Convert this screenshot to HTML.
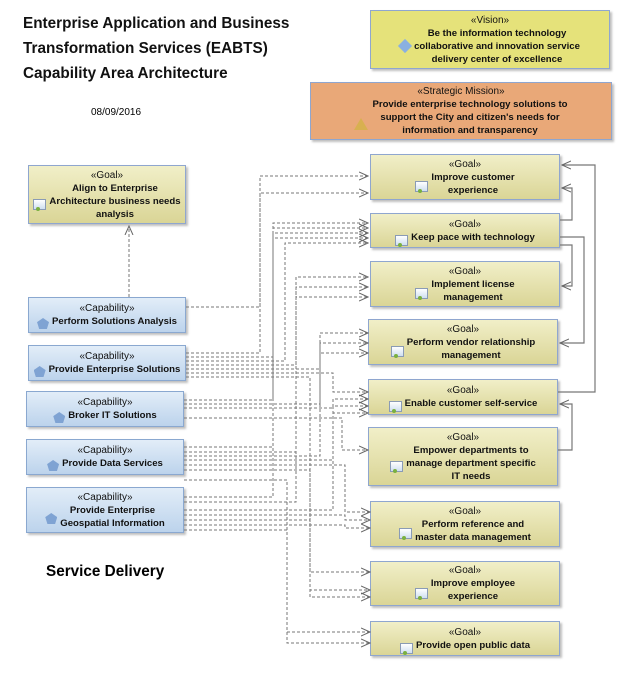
<!DOCTYPE html>
<html><head><meta charset="utf-8"><style>
body{margin:0;background:#fff;width:622px;height:673px;overflow:hidden;font-family:"Liberation Sans",sans-serif}
.t{position:absolute;left:23px;top:11px;font-size:15.3px;font-weight:bold;line-height:25px;color:#111}
.b{position:absolute;box-sizing:border-box;text-align:center;font-size:9.6px;font-weight:bold;line-height:13px;color:#111;box-shadow:2px 2px 2px rgba(0,0,0,.25);display:flex;flex-direction:column;justify-content:center}
.b i{font-style:normal;font-weight:normal;font-size:10px}
.r{display:flex;align-items:center;justify-content:center}
.r>div{text-align:center}
.ig{display:inline-block;width:11px;height:9px;border:1px solid #8a9bb5;background:linear-gradient(#fff,#cfdff0);position:relative;margin-right:3px;flex:none;top:3px}
.ig:after{content:"";position:absolute;left:2px;bottom:-2px;width:4px;height:4px;border-radius:50%;background:#7ab040}
.ic{display:inline-block;width:12px;height:11px;margin-right:3px;flex:none;background:#7fa3d3;clip-path:polygon(50% 0,100% 38%,82% 100%,18% 100%,0 38%);top:2px;position:relative}
.g{background:linear-gradient(#f1efc8,#dad596);border:1px solid #8fa6cf}
.c{background:linear-gradient(#e2edf8,#bcd3ec);border:1px solid #8aa8d0}
</style></head><body>
<div class="t">Enterprise Application and Business<br>Transformation Services (EABTS)<br>Capability Area Architecture</div>
<div style="position:absolute;left:91px;top:107px;font-size:10px">08/09/2016</div>
<div style="position:absolute;left:46px;top:563px;font-size:15.3px;font-weight:bold">Service Delivery</div>
<div class="b" style="left:370px;top:10px;width:240px;height:59px;background:#e5e27a;border:1px solid #8fa6cf"><i>«Vision»</i><div class="r"><span style="display:inline-block;width:10px;height:10px;background:#8ab0e0;transform:rotate(45deg);margin-right:4px"></span><div>Be the information technology<br>collaborative and innovation service<br>delivery center of excellence</div></div></div>
<div class="b" style="left:310px;top:82px;width:302px;height:58px;background:#e9a878;border:1px solid #8fa6cf"><i>«Strategic Mission»</i><div class="r"><span style="display:inline-block;width:0;height:0;border-left:7px solid transparent;border-right:7px solid transparent;border-bottom:12px solid #d8b050;margin-right:4px;position:relative;top:6px"></span><div>Provide enterprise technology solutions to<br>support the City and citizen's needs for<br>information and transparency</div></div></div>
<div class="b g" style="left:28px;top:165px;width:158px;height:59px"><i>«Goal»</i><div class="r"><span class="ig"></span><div>Align to Enterprise<br>Architecture business needs<br>analysis</div></div></div>
<div class="b c" style="left:28px;top:297px;width:158px;height:36px"><i>«Capability»</i><div class="r"><span class="ic"></span>Perform Solutions Analysis</div></div>
<div class="b c" style="left:28px;top:345px;width:158px;height:36px"><i>«Capability»</i><div class="r"><span class="ic"></span>Provide Enterprise Solutions</div></div>
<div class="b c" style="left:26px;top:391px;width:158px;height:36px"><i>«Capability»</i><div class="r"><span class="ic"></span>Broker IT Solutions</div></div>
<div class="b c" style="left:26px;top:439px;width:158px;height:36px"><i>«Capability»</i><div class="r"><span class="ic"></span>Provide Data Services</div></div>
<div class="b c" style="left:26px;top:487px;width:158px;height:46px"><i>«Capability»</i><div class="r"><span class="ic"></span><div>Provide Enterprise<br>Geospatial Information</div></div></div>
<div class="b g" style="left:370px;top:154px;width:190px;height:46px"><i>«Goal»</i><div class="r"><span class="ig"></span><div>Improve customer<br>experience</div></div></div>
<div class="b g" style="left:370px;top:213px;width:190px;height:35px"><i>«Goal»</i><div class="r"><span class="ig"></span>Keep pace with technology</div></div>
<div class="b g" style="left:370px;top:261px;width:190px;height:46px"><i>«Goal»</i><div class="r"><span class="ig"></span><div>Implement license<br>management</div></div></div>
<div class="b g" style="left:368px;top:319px;width:190px;height:46px"><i>«Goal»</i><div class="r"><span class="ig"></span><div>Perform vendor relationship<br>management</div></div></div>
<div class="b g" style="left:368px;top:379px;width:190px;height:36px"><i>«Goal»</i><div class="r"><span class="ig"></span>Enable customer self-service</div></div>
<div class="b g" style="left:368px;top:427px;width:190px;height:59px"><i>«Goal»</i><div class="r"><span class="ig"></span><div>Empower departments to<br>manage department specific<br>IT needs</div></div></div>
<div class="b g" style="left:370px;top:501px;width:190px;height:46px"><i>«Goal»</i><div class="r"><span class="ig"></span><div>Perform reference and<br>master data management</div></div></div>
<div class="b g" style="left:370px;top:561px;width:190px;height:45px"><i>«Goal»</i><div class="r"><span class="ig"></span><div>Improve employee<br>experience</div></div></div>
<div class="b g" style="left:370px;top:621px;width:190px;height:35px"><i>«Goal»</i><div class="r"><span class="ig"></span>Provide open public data</div></div>
<svg width="622" height="673" style="position:absolute;left:0;top:0" fill="none">
<defs><marker id="a" markerWidth="10" markerHeight="10" refX="9" refY="5" orient="auto" markerUnits="userSpaceOnUse"><path d="M0,1L9,5L0,9" stroke="#666" fill="none"/></marker></defs>
<g stroke="#777" stroke-dasharray="3,2" stroke-width="1" marker-end="url(#a)">
<path d="M129,297V226"/>
<path d="M186,307H260V176H368"/><path d="M186,353H260V193H368"/>
<path d="M186,357H273V223H368"/><path d="M184,400H273V228H368"/><path d="M184,447H273V233H368"/><path d="M184,497H273V238H368"/><path d="M186,361H285V243H368"/>
<path d="M186,365H296V277H368"/><path d="M184,452H296V287H368"/><path d="M184,502H296V297H368"/>
<path d="M186,369H320V333H368"/><path d="M184,404H320V343H368"/><path d="M184,456H320V353H368"/>
<path d="M186,373H333V392H368"/><path d="M184,408H333V399H368"/><path d="M184,460H333V406H368"/><path d="M184,510H333V413H368"/>
<path d="M184,418H342V450H368"/>
<path d="M184,465H345V512H370"/><path d="M184,515H345V520H370"/><path d="M184,525H345V528H370"/>
<path d="M186,377H310V572H370"/><path d="M184,470H310V590H370"/><path d="M184,520H310V597H370"/>
<path d="M184,480H287V632H370"/><path d="M184,530H287V643H370"/>
</g>
<g stroke="#777" stroke-width="1.2" marker-end="url(#a)">
<path d="M558,392H595V165H562"/>
<path d="M560,220H572V188H562"/>
<path d="M560,237H584V343H560"/>
<path d="M560,245H572V286H562"/>
<path d="M558,450H572V404H560"/>
</g>
</svg>
</body></html>
